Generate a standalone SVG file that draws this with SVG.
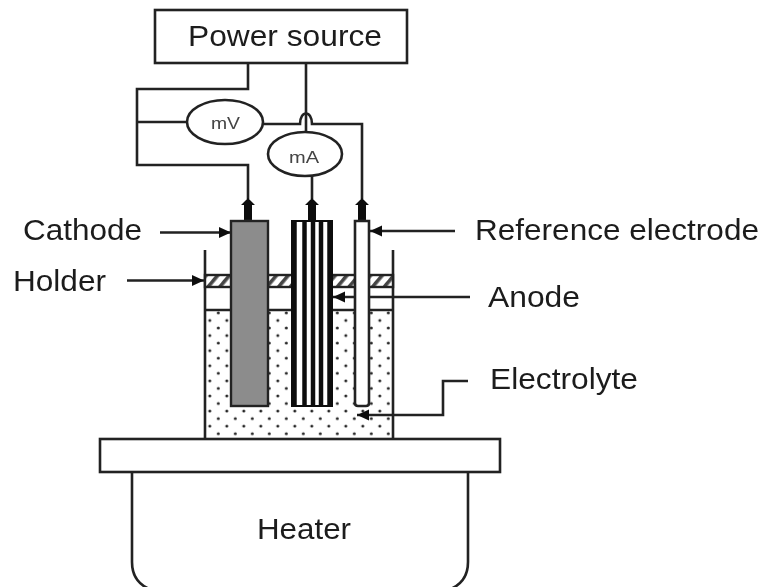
<svg xmlns="http://www.w3.org/2000/svg" width="764" height="587" viewBox="0 0 764 587">
<style>
.s{fill:none;stroke:#222;stroke-width:2.6}
.b{fill:#fff;stroke:#222;stroke-width:2.6}
.t{font-family:"Liberation Sans",Arial,sans-serif;font-size:30px;fill:#1c1c1c}
.m{font-family:"Liberation Sans",Arial,sans-serif;font-size:17px;fill:#444}
</style>
<defs>
<filter id="soft" x="0" y="0" width="100%" height="100%"><feGaussianBlur stdDeviation="0.6"/></filter>
<pattern id="dots" patternUnits="userSpaceOnUse" x="209.8" y="418.6" width="17" height="15.1">
<circle cx="0" cy="7.55" r="1.5" fill="#222"/><circle cx="17" cy="7.55" r="1.5" fill="#222"/>
<circle cx="8.5" cy="15.1" r="1.5" fill="#222"/><circle cx="8.5" cy="0" r="1.5" fill="#222"/>
</pattern>
<pattern id="hatch" patternUnits="userSpaceOnUse" width="9" height="9" patternTransform="rotate(40)">
<rect width="9" height="9" fill="#fff"/><rect width="3.600" height="9" fill="#444"/>
</pattern>
<marker id="tip" markerUnits="userSpaceOnUse" markerWidth="14" markerHeight="12" refX="12" refY="6" orient="auto"><path d="M0,0.500L12,6L0,11.500Z" fill="#111"/></marker>
<symbol id="up" overflow="visible"><path d="M0,0L7,7L4,7L4,23L-4,23L-4,7L-7,7Z" fill="#111"/></symbol>
</defs>
<g filter="url(#soft)">
<rect width="764" height="587" fill="#fff"/>
<g id="cell">
<rect x="205" y="310" width="188" height="128" fill="url(#dots)"/>
<path class="s" d="M205,250V438M393,250V438M205,310H393"/>
<rect x="205" y="275" width="188" height="12" fill="url(#hatch)" stroke="#222" stroke-width="2.4"/>
</g>
<g id="connectors">
<path class="s" d="M248,63V89H137V165H248V199M137,122H188"/>
<path class="s" d="M263,124H300C300,110 312,110 312,124H362V199"/>
<path class="s" d="M306,63V133M312,176V199"/>
<use href="#up" x="248" y="198"/><use href="#up" x="312" y="198"/><use href="#up" x="362" y="198"/>
<path class="s" d="M160,232.500H231" marker-end="url(#tip)"/>
<path class="s" d="M127,280.500H204" marker-end="url(#tip)"/>
<path class="s" d="M455,231H370" marker-end="url(#tip)"/>
<path class="s" d="M470,297H333" marker-end="url(#tip)"/>
<path class="s" d="M468,381H443V415H357" marker-end="url(#tip)"/>
</g>
<g id="power-source"><rect class="b" x="155" y="10" width="252" height="53"/><text class="t" x="188" y="46" textLength="194" lengthAdjust="spacingAndGlyphs">Power source</text></g>
<g id="mv"><ellipse class="b" cx="225" cy="122" rx="38" ry="22"/><text class="m" x="211" y="129" textLength="29" lengthAdjust="spacingAndGlyphs">mV</text></g>
<g id="ma"><ellipse class="b" cx="305" cy="154" rx="37" ry="22"/><text class="m" x="289" y="163" textLength="30" lengthAdjust="spacingAndGlyphs">mA</text></g>
<g id="cathode"><rect x="231" y="221" width="37" height="185" fill="#8c8c8c" stroke="#222" stroke-width="2.4"/><text class="t" x="23" y="240" textLength="119" lengthAdjust="spacingAndGlyphs">Cathode</text></g>
<g id="anode"><rect x="292" y="221" width="40" height="185" fill="#fff" stroke="#111" stroke-width="2"/>
<path d="M294.500,221V406M304.500,221V406M313,221V406M321,221V406M329.500,221V406" stroke="#111" stroke-width="4.500" fill="none"/>
<text class="t" x="488" y="307" textLength="92" lengthAdjust="spacingAndGlyphs">Anode</text></g>
<g id="reference-electrode"><path class="b" d="M355,221H369V403Q369,406 366,406H358Q355,406 355,403Z"/><text class="t" x="475" y="240" textLength="284" lengthAdjust="spacingAndGlyphs">Reference electrode</text></g>
<g id="holder"><text class="t" x="13" y="291" textLength="93" lengthAdjust="spacingAndGlyphs">Holder</text></g>
<g id="electrolyte"><text class="t" x="490" y="389" textLength="148" lengthAdjust="spacingAndGlyphs">Electrolyte</text></g>
<g id="heater"><path class="b" d="M132,472V562Q132,583 152,590H448Q468,583 468,562V472"/><rect class="b" x="100" y="439" width="400" height="33"/><text class="t" x="257" y="539" textLength="94" lengthAdjust="spacingAndGlyphs">Heater</text></g>
</g>
</svg>
